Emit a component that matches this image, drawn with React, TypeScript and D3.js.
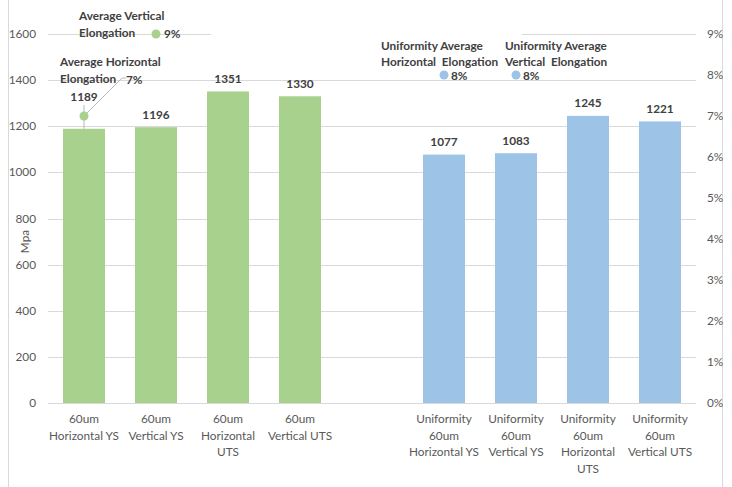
import React from "react";
import * as d3 from "d3";

const categories = [
  "60um Horizontal YS",
  "60um Vertical YS",
  "60um Horizontal UTS",
  "60um Vertical UTS",
  "",
  "Uniformity 60um Horizontal YS",
  "Uniformity 60um Vertical YS",
  "Uniformity 60um Horizontal UTS",
  "Uniformity 60um Vertical UTS",
];
const categoryLines = [
  ["60um", "Horizontal YS"],
  ["60um", "Vertical YS"],
  ["60um", "Horizontal", "UTS"],
  ["60um", "Vertical UTS"],
  [],
  ["Uniformity", "60um", "Horizontal YS"],
  ["Uniformity", "60um", "Vertical YS"],
  ["Uniformity", "60um", "Horizontal", "UTS"],
  ["Uniformity", "60um", "Vertical UTS"],
];
const strengthValues = [1189, 1196, 1351, 1330, null, 1077, 1083, 1245, 1221];
const groupOf = ["std", "std", "std", "std", "", "uni", "uni", "uni", "uni"];

const elongationCats = [0, 1, 5, 6];
const elongationValues = [0.07, 0.09, 0.08, 0.08];
const elongationNames = [
  ["Average Horizontal", "Elongation"],
  ["Average Vertical", "Elongation"],
  ["Uniformity Average", "Horizontal\u00a0\u00a0Elongation"],
  ["Uniformity Average", "Vertical\u00a0\u00a0Elongation"],
];

const leftTicks = [0, 200, 400, 600, 800, 1000, 1200, 1400, 1600];
const rightTicks = [0, 0.01, 0.02, 0.03, 0.04, 0.05, 0.06, 0.07, 0.08, 0.09];

const GREEN = "#a9d18e";
const BLUE = "#9dc3e6";
const GRID = "#d9d9d9";
const AXIS_TEXT = "#595959";
const LABEL = "#404040";
const FONT = "Lato, 'Liberation Sans', sans-serif";
const FS = 11.8;

export default function App() {
  const W = 732;
  const H = 487;
  const x = d3
    .scaleBand<string>()
    .domain(categories.map((c, i) => String(i)))
    .range([48, 696])
    .paddingInner(0.4167)
    .paddingOuter(0.4167 / 2);
  const y = d3.scaleLinear().domain([0, 1600]).range([403, 34]);
  const y2 = d3.scaleLinear().domain([0, 0.09]).range([403, 34]);
  const cx = (i: number) => (x(String(i)) as number) + x.bandwidth() / 2;
  const pct = d3.format(".0%");

  return (
    <div style={{ position: "fixed", left: 0, top: 0 }}>
      <svg width={W} height={H} style={{ display: "block", background: "#fff" }} fontFamily={FONT}>
        <rect x={8.5} y={-2} width={714} height={H + 4} fill="none" stroke={GRID} strokeWidth={1} />
        {leftTicks.map((t) => (
          <g key={t}>
            <line x1={48} x2={696} y1={Math.round(y(t)) + 0.5} y2={Math.round(y(t)) + 0.5} stroke={GRID} strokeWidth={1} />
            <text x={36} y={y(t) + 4} textAnchor="end" fontSize={FS} fill={AXIS_TEXT}>
              {t}
            </text>
          </g>
        ))}
        {/* blank band where the chart area's top gridline is hidden */}
        <rect x={211} y={y(1600) - 3} width={311} height={6} fill="#fff" />
        {rightTicks.map((t) => (
          <text key={t} x={707} y={y2(t) + 4} fontSize={FS} fill={AXIS_TEXT}>
            {pct(t)}
          </text>
        ))}
        <text transform={`translate(29,${y(700)}) rotate(-90)`} textAnchor="middle" fontSize={FS} fill={AXIS_TEXT}>
          Mpa
        </text>

        {strengthValues.map((v, i) =>
          v == null ? null : (
            <rect
              key={i}
              x={x(String(i))}
              y={y(v)}
              width={x.bandwidth()}
              height={y(0) - y(v)}
              fill={groupOf[i] === "std" ? GREEN : BLUE}
            />
          )
        )}
        {/* baseline */}
        <line x1={48} x2={696} y1={Math.round(y(0)) + 0.5} y2={Math.round(y(0)) + 0.5} stroke={GRID} />

        {/* bar value labels */}
        {strengthValues.map((v, i) =>
          v == null ? null : (
            <text
              key={i}
              x={cx(i)}
              y={y(v) - 8.5 - (i === 0 ? 19 : 0)}
              textAnchor="middle"
              fontSize={FS}
              fontWeight={700}
              fill={LABEL}
            >
              {v}
            </text>
          )
        )}

        {/* leader line for the horizontal elongation label */}
        <line x1={cx(0)} x2={cx(0)} y1={y2(0.07) - 11} y2={y(1189)} stroke="#a6a6a6" strokeWidth={0.8} />
        <polyline
          points={`${cx(0)},${y2(0.07)} ${cx(0) + 38},${y2(0.07) - 38} ${cx(0) + 42},${y2(0.07) - 38}`}
          fill="none"
          stroke="#a6a6a6"
          strokeWidth={0.8}
        />

        {/* elongation points */}
        {elongationValues.map((v, k) => (
          <circle
            key={k}
            cx={cx(elongationCats[k])}
            cy={y2(v)}
            r={4.5}
            fill={groupOf[elongationCats[k]] === "std" ? GREEN : BLUE}
          />
        ))}

        {/* elongation labels */}
        {elongationValues.map((v, k) => {
          const px = cx(elongationCats[k]);
          const py = y2(v);
          const names = elongationNames[k];
          let tx: number, ty: number, vx: number, vy: number, lh = 17;
          if (k === 0) {
            tx = px - 24; ty = py - 50; vx = px + 42; vy = py - 32;
          } else if (k === 1) {
            tx = px - 77; ty = py - 14; vx = px + 8; vy = py + 4;
          } else if (k === 2) {
            tx = px - 63; ty = py - 25; vx = px + 7; vy = py + 5; lh = 15.5;
          } else {
            tx = px - 11; ty = py - 25; vx = px + 7; vy = py + 5; lh = 15.5;
          }
          return (
            <g key={k} fontSize={FS} fontWeight={700} fill={LABEL}>
              <text x={tx} y={ty}>{names[0]}</text>
              <text x={tx} y={ty + lh}>{names[1]}</text>
              <text x={vx} y={vy}>{pct(v)}</text>
            </g>
          );
        })}

        {/* category labels */}
        {categoryLines.map((lines, i) => (
          <text key={i} x={cx(i)} textAnchor="middle" fontSize={FS} fill={AXIS_TEXT}>
            {lines.map((l, j) => (
              <tspan key={j} x={cx(i)} y={423 + j * 16.5}>
                {l}
              </tspan>
            ))}
          </text>
        ))}
      </svg>
    </div>
  );
}
